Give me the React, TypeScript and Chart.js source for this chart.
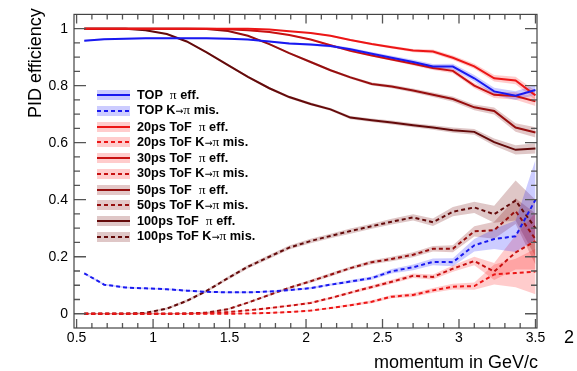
import React, { useEffect, useRef } from 'react';
import { Chart, registerables } from 'chart.js';

Chart.register(...registerables);

// ---------- data ----------
const momentum = [0.55, 0.68, 0.82, 0.95, 1.09, 1.22, 1.35, 1.49, 1.62, 1.76, 1.89, 2.03, 2.16, 2.29, 2.43, 2.56, 2.70, 2.83, 2.96, 3.10, 3.23, 3.37, 3.50];

const topEff = [0.958, 0.963, 0.965, 0.966, 0.966, 0.966, 0.966, 0.965, 0.962, 0.955, 0.948, 0.944, 0.939, 0.928, 0.912, 0.898, 0.883, 0.867, 0.867, 0.826, 0.780, 0.765, 0.785];
const topEffErr = [0.003, 0.003, 0.003, 0.003, 0.003, 0.003, 0.003, 0.003, 0.003, 0.003, 0.004, 0.004, 0.005, 0.005, 0.006, 0.007, 0.008, 0.009, 0.010, 0.011, 0.013, 0.015, 0.018];
const topMis = [0.142, 0.102, 0.092, 0.089, 0.086, 0.081, 0.077, 0.075, 0.075, 0.078, 0.083, 0.090, 0.102, 0.113, 0.125, 0.149, 0.163, 0.182, 0.181, 0.240, 0.262, 0.272, 0.400];
const topMisErr = [0.004, 0.003, 0.003, 0.003, 0.003, 0.003, 0.003, 0.003, 0.003, 0.003, 0.003, 0.004, 0.004, 0.005, 0.006, 0.008, 0.010, 0.012, 0.014, 0.022, 0.035, 0.055, 0.140];

const eff20 = [1, 1, 1, 1, 1, 1, 1, 1, 1, 0.997, 0.991, 0.985, 0.975, 0.960, 0.946, 0.935, 0.923, 0.920, 0.898, 0.868, 0.826, 0.818, 0.766];
const eff20Err = [0, 0, 0, 0, 0, 0, 0, 0, 0, 0.001, 0.002, 0.002, 0.003, 0.003, 0.004, 0.005, 0.006, 0.007, 0.008, 0.009, 0.011, 0.013, 0.016];
const mis20 = [0, 0, 0, 0, 0, 0, 0, 0, 0.001, 0.003, 0.006, 0.011, 0.020, 0.030, 0.042, 0.060, 0.066, 0.082, 0.095, 0.097, 0.138, 0.143, 0.148];
const mis20Err = [0.002, 0.002, 0.002, 0.002, 0.002, 0.002, 0.002, 0.002, 0.002, 0.002, 0.002, 0.002, 0.003, 0.004, 0.005, 0.006, 0.007, 0.008, 0.010, 0.013, 0.035, 0.050, 0.080];

const eff30 = [1, 1, 1, 1, 1, 1, 1, 0.998, 0.994, 0.988, 0.978, 0.962, 0.942, 0.922, 0.906, 0.892, 0.877, 0.862, 0.852, 0.800, 0.768, 0.764, 0.745];
const eff30Err = [0, 0, 0, 0, 0, 0, 0, 0.001, 0.001, 0.002, 0.002, 0.003, 0.003, 0.004, 0.004, 0.005, 0.006, 0.007, 0.008, 0.009, 0.011, 0.013, 0.016];
const mis30 = [0, 0, 0, 0, 0, 0, 0.002, 0.006, 0.012, 0.020, 0.028, 0.038, 0.055, 0.074, 0.094, 0.112, 0.133, 0.129, 0.158, 0.185, 0.148, 0.215, 0.255];
const mis30Err = [0.002, 0.002, 0.002, 0.002, 0.002, 0.002, 0.002, 0.002, 0.002, 0.003, 0.003, 0.004, 0.004, 0.005, 0.006, 0.007, 0.008, 0.009, 0.011, 0.015, 0.030, 0.060, 0.100];

const eff50 = [1, 1, 1, 1, 1, 1, 0.999, 0.992, 0.975, 0.946, 0.914, 0.883, 0.854, 0.829, 0.806, 0.797, 0.783, 0.768, 0.753, 0.724, 0.711, 0.653, 0.636];
const eff50Err = [0, 0, 0, 0, 0, 0, 0.001, 0.002, 0.002, 0.003, 0.003, 0.004, 0.004, 0.005, 0.005, 0.006, 0.007, 0.008, 0.009, 0.010, 0.012, 0.015, 0.018];
const mis50 = [0, 0, 0, 0, 0, 0.001, 0.004, 0.016, 0.039, 0.066, 0.091, 0.114, 0.137, 0.160, 0.181, 0.192, 0.207, 0.228, 0.228, 0.289, 0.293, 0.360, 0.262];
const mis50Err = [0.002, 0.002, 0.002, 0.002, 0.002, 0.002, 0.002, 0.003, 0.003, 0.004, 0.004, 0.005, 0.006, 0.006, 0.007, 0.008, 0.009, 0.010, 0.012, 0.018, 0.030, 0.045, 0.090];

const eff100 = [1, 1, 1, 0.994, 0.981, 0.955, 0.917, 0.872, 0.831, 0.791, 0.760, 0.736, 0.717, 0.688, 0.679, 0.671, 0.661, 0.653, 0.644, 0.638, 0.602, 0.575, 0.580];
const eff100Err = [0, 0, 0, 0.001, 0.002, 0.003, 0.003, 0.004, 0.004, 0.004, 0.005, 0.005, 0.005, 0.006, 0.006, 0.007, 0.007, 0.008, 0.009, 0.010, 0.013, 0.016, 0.018];
const mis100 = [0, 0, 0, 0.003, 0.018, 0.045, 0.080, 0.125, 0.165, 0.200, 0.232, 0.255, 0.273, 0.290, 0.307, 0.323, 0.338, 0.321, 0.358, 0.373, 0.349, 0.397, 0.300];
const mis100Err = [0.002, 0.002, 0.002, 0.003, 0.004, 0.005, 0.005, 0.006, 0.006, 0.007, 0.007, 0.008, 0.008, 0.009, 0.009, 0.010, 0.011, 0.013, 0.016, 0.020, 0.030, 0.070, 0.100];

const xTicks = [0.5, 1, 1.5, 2, 2.5, 3, 3.5];
const yTicks = [0, 0.2, 0.4, 0.6, 0.8, 1];

const seriesNames = ['TOP', 'TOP', '20ps ToF', '20ps ToF', '30ps ToF', '30ps ToF', '50ps ToF', '50ps ToF', '100ps ToF', '100ps ToF'];
const seriesKinds = ['eff', 'mis', 'eff', 'mis', 'eff', 'mis', 'eff', 'mis', 'eff', 'mis'];
const seriesValues = [topEff, topMis, eff20, mis20, eff30, mis30, eff50, mis50, eff100, mis100];
const seriesErrors = [topEffErr, topMisErr, eff20Err, mis20Err, eff30Err, mis30Err, eff50Err, mis50Err, eff100Err, mis100Err];

// ---------- styles ----------
const lineColors = ['rgb(25,25,240)', 'rgb(25,25,240)', 'rgb(236,22,22)', 'rgb(236,22,22)', 'rgb(200,16,16)', 'rgb(200,16,16)', 'rgb(150,14,14)', 'rgb(150,14,14)', 'rgb(100,10,10)', 'rgb(100,10,10)'];
const bandColors = ['rgba(0,0,255,0.2)', 'rgba(0,0,255,0.2)', 'rgba(255,0,0,0.2)', 'rgba(255,0,0,0.2)', 'rgba(255,0,0,0.2)', 'rgba(255,0,0,0.2)', 'rgba(128,0,0,0.22)', 'rgba(128,0,0,0.22)', 'rgba(110,0,0,0.22)', 'rgba(110,0,0,0.22)'];

const FONT = '"Liberation Sans", Arial, Helvetica, sans-serif';

const framePlugin = {
  id: 'rootFrame',
  afterDatasetsDraw(chart: any) {
    const { ctx, chartArea: a, scales } = chart;
    const xs = scales.x;
    const ys = scales.y;
    ctx.save();
    ctx.strokeStyle = '#555';
    ctx.lineWidth = 1.3;
    ctx.beginPath();
    const tick = (x1: number, y1: number, x2: number, y2: number) => {
      ctx.moveTo(x1, y1);
      ctx.lineTo(x2, y2);
    };
    for (let k = 0; k < xTicks.length; k++) {
      const px = xs.getPixelForValue(xTicks[k]);
      tick(px, a.bottom, px, a.bottom - 9);
      tick(px, a.top, px, a.top + 9);
      if (k < xTicks.length - 1) {
        const step = (xTicks[k + 1] - xTicks[k]) / 5;
        for (let m = 1; m < 5; m++) {
          const mx = xs.getPixelForValue(xTicks[k] + m * step);
          tick(mx, a.bottom, mx, a.bottom - 5);
          tick(mx, a.top, mx, a.top + 5);
        }
      }
    }
    for (let k = 0; k < yTicks.length; k++) {
      const py = ys.getPixelForValue(yTicks[k]);
      tick(a.left, py, a.left + 12, py);
      tick(a.right, py, a.right - 12, py);
      if (k < yTicks.length - 1) {
        const step = (yTicks[k + 1] - yTicks[k]) / 4;
        for (let m = 1; m < 4; m++) {
          const my = ys.getPixelForValue(yTicks[k] + m * step);
          tick(a.left, my, a.left + 6, my);
          tick(a.right, my, a.right - 6, my);
        }
      }
    }
    ctx.stroke();
    ctx.strokeStyle = '#444';
    ctx.lineWidth = 1.2;
    ctx.strokeRect(a.left, a.top, a.right - a.left, a.bottom - a.top);
    ctx.restore();
  },
};

function LegendLabel({ name, kind }: { name: string; kind: string }) {
  const pi = <span style={{ fontFamily: '"Liberation Serif", serif', fontWeight: 'normal', fontSize: 13.5 }}>π</span>;
  if (kind === 'eff') {
    return (
      <span>
        <b>{name}</b>
        <span style={{ marginLeft: 7 }}>{pi}</span>
        <b>{' eff.'}</b>
      </span>
    );
  }
  return (
    <span>
      <b>{name + ' K'}</b>
      <span style={{ fontFamily: '"DejaVu Sans", sans-serif', fontWeight: 'normal', fontSize: 9.5 }}>→</span>
      {pi}
      <b>{' mis.'}</b>
    </span>
  );
}

export default function App() {
  const ref = useRef<HTMLCanvasElement>(null);

  useEffect(() => {
    const canvas = ref.current;
    if (!canvas) return;
    const bandSets: any[] = [];
    const lineSets: any[] = [];
    seriesValues.forEach((vals, s) => {
      const err = seriesErrors[s];
      bandSets.push({
        data: momentum.map((x, i) => ({ x, y: vals[i] + err[i] })),
        borderWidth: 0,
        pointRadius: 0,
        backgroundColor: bandColors[s],
        borderColor: 'rgba(0,0,0,0)',
        fill: '+1',
        tension: 0,
      });
      bandSets.push({
        data: momentum.map((x, i) => ({ x, y: vals[i] - err[i] })),
        borderWidth: 0,
        pointRadius: 0,
        borderColor: 'rgba(0,0,0,0)',
        fill: false,
        tension: 0,
      });
      lineSets.push({
        label: seriesNames[s] + ' ' + seriesKinds[s],
        data: momentum.map((x, i) => ({ x, y: vals[i] })),
        borderColor: lineColors[s],
        borderWidth: 2,
        borderDash: seriesKinds[s] === 'mis' ? [4, 3] : [],
        pointRadius: 0,
        fill: false,
        tension: 0,
      });
    });

    const chart = new Chart(canvas, {
      type: 'line',
      data: { datasets: [...bandSets, ...lineSets] },
      plugins: [framePlugin],
      options: {
        responsive: false,
        animation: false,
        devicePixelRatio: 1,
        events: [],
        layout: { padding: { left: 8, right: 40, top: 8, bottom: 0 } },
        plugins: {
          legend: { display: false },
          tooltip: { enabled: false },
          filler: { drawTime: 'beforeDatasetsDraw', propagate: false },
        } as any,
        scales: {
          x: {
            type: 'linear',
            min: 0.483,
            max: 3.51,
            grid: { display: false, drawTicks: false },
            border: { display: false },
            ticks: {
              font: { family: FONT, size: 14 },
              color: '#000',
              padding: 2,
              maxRotation: 0,
              autoSkip: false,
              callback: (v: any) => String(v),
            },
            afterBuildTicks: (s: any) => {
              s.ticks = xTicks.map((v) => ({ value: v }));
            },
            afterFit: (s: any) => {
              s.height = 43;
            },
          },
          y: {
            type: 'linear',
            min: -0.05,
            max: 1.05,
            grid: { display: false, drawTicks: false },
            border: { display: false },
            ticks: {
              font: { family: FONT, size: 14 },
              color: '#000',
              padding: 6,
              autoSkip: false,
              callback: (v: any) => String(v),
            },
            afterBuildTicks: (s: any) => {
              s.ticks = yTicks.map((v) => ({ value: v }));
            },
            afterFit: (s: any) => {
              s.width = 66;
            },
          },
        },
      } as any,
    });
    return () => chart.destroy();
  }, []);

  const rowH = 15.75;

  return (
    <div style={{ position: 'absolute', left: 0, top: 0, width: 577, height: 371, background: '#fff', overflow: 'hidden', fontFamily: FONT }}>
      <canvas ref={ref} width={577} height={371} style={{ position: 'absolute', left: 0, top: 0, width: 577, height: 371 }} />
      <div
        style={{
          position: 'absolute',
          left: 25.5,
          top: 118,
          transformOrigin: 'left top',
          transform: 'rotate(-90deg)',
          fontSize: 18,
          lineHeight: '18px',
          whiteSpace: 'nowrap',
          color: '#000',
        }}
      >
        PID efficiency
      </div>
      <div style={{ position: 'absolute', right: 39, top: 352.5, fontSize: 18, lineHeight: '18px', whiteSpace: 'nowrap', color: '#000' }}>
        momentum in GeV/c
      </div>
      <div style={{ position: 'absolute', left: 564, top: 328, fontSize: 18, lineHeight: '18px', color: '#000' }}>2</div>
      <div style={{ position: 'absolute', left: 97, top: 95 - rowH / 2 }}>
        {seriesNames.map((name, i) => (
          <div key={i} style={{ height: rowH, display: 'flex', alignItems: 'center', whiteSpace: 'nowrap' }}>
            <div style={{ position: 'relative', width: 33, height: 10, background: bandColors[i], flex: 'none' }}>
              <div
                style={{
                  position: 'absolute',
                  left: 0,
                  top: 4,
                  width: 33,
                  height: 2,
                  background:
                    seriesKinds[i] === 'mis'
                      ? `repeating-linear-gradient(to right, ${lineColors[i]} 0px, ${lineColors[i]} 4px, transparent 4px, transparent 7px)`
                      : lineColors[i],
                }}
              />
            </div>
            <div style={{ marginLeft: 7, fontSize: 12.7, color: '#000', lineHeight: '14px' }}>
              <LegendLabel name={name} kind={seriesKinds[i]} />
            </div>
          </div>
        ))}
      </div>
    </div>
  );
}
